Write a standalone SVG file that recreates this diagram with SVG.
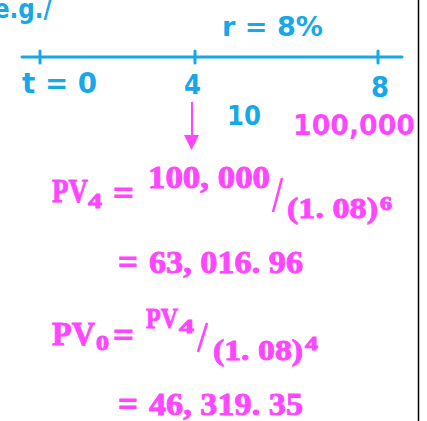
<svg xmlns="http://www.w3.org/2000/svg" width="427" height="421" viewBox="0 0 427 421">
<style>
.b{fill:#16a8e8;font-family:"DejaVu Sans",sans-serif;font-weight:bold}
.p{fill:#ff45ff;font-family:"DejaVu Sans",sans-serif;font-weight:bold}
.m{fill:#ff45ff;stroke:#ff45ff;stroke-width:0.9;font-family:"Liberation Serif",serif;font-weight:bold}
.tl{stroke:#16a8e8;stroke-width:3;stroke-linecap:round;fill:none}
</style>
<rect width="427" height="421" fill="#fff"/>
<line x1="418.5" y1="0" x2="418.5" y2="421" stroke="#000" stroke-width="1.5"/>
<g id="header">
<text class="b" x="-6" y="18" font-size="26" textLength="58" lengthAdjust="spacingAndGlyphs">e.g./</text>
<text class="b" x="222" y="36" font-size="27" textLength="101" lengthAdjust="spacingAndGlyphs">r = 8%</text>
</g>
<g id="connectors">
<line class="tl" x1="22" y1="57" x2="402" y2="57"/>
<line class="tl" x1="40" y1="51" x2="40" y2="63"/>
<line class="tl" x1="195" y1="51" x2="195" y2="63"/>
<line class="tl" x1="378" y1="51" x2="378" y2="63"/>
<line x1="192" y1="102" x2="192" y2="138" stroke="#ff45ff" stroke-width="2"/>
<polygon points="184,135 199,135 191.5,150" fill="#ff45ff"/>
</g>
<g id="labels">
<text class="b" x="22" y="93" font-size="29" textLength="75" lengthAdjust="spacingAndGlyphs">t = 0</text>
<text class="b" x="184" y="94" font-size="27" textLength="17" lengthAdjust="spacingAndGlyphs">4</text>
<text class="b" x="371" y="97" font-size="28" textLength="18" lengthAdjust="spacingAndGlyphs">8</text>
<text class="b" x="227" y="125" font-size="27" textLength="34" lengthAdjust="spacingAndGlyphs">10</text>
<text class="p" x="293" y="135" font-size="29" textLength="122" lengthAdjust="spacingAndGlyphs">100,000</text>
</g>
<g id="eq1">
<text class="m" x="52" y="202" font-size="33" textLength="36" lengthAdjust="spacingAndGlyphs">PV</text>
<text class="m" x="88" y="208" font-size="21" textLength="14" lengthAdjust="spacingAndGlyphs">4</text>
<text class="m" x="113" y="205" font-size="36" textLength="21" lengthAdjust="spacingAndGlyphs">=</text>
<text class="m" x="148" y="188" font-size="31" textLength="122" lengthAdjust="spacingAndGlyphs">100, 000</text>
<line x1="273" y1="212" x2="282" y2="178" stroke="#ff45ff" stroke-width="2.6"/>
<text class="m" x="287" y="218" font-size="30" textLength="91" lengthAdjust="spacingAndGlyphs">(1. 08)</text>
<text class="m" x="380" y="210" font-size="18" textLength="12" lengthAdjust="spacingAndGlyphs">6</text>
<text class="m" x="118" y="274" font-size="36" textLength="20" lengthAdjust="spacingAndGlyphs">=</text>
<text class="m" x="149" y="273" font-size="31" textLength="154" lengthAdjust="spacingAndGlyphs">63, 016. 96</text>
</g>
<g id="eq2">
<text class="m" x="52" y="345" font-size="33" textLength="43" lengthAdjust="spacingAndGlyphs">PV</text>
<text class="m" x="96" y="350" font-size="21" textLength="13" lengthAdjust="spacingAndGlyphs">0</text>
<text class="m" x="113" y="347" font-size="36" textLength="21" lengthAdjust="spacingAndGlyphs">=</text>
<text class="m" x="146" y="328" font-size="30" textLength="32" lengthAdjust="spacingAndGlyphs">PV</text>
<text class="m" x="179" y="333" font-size="18" textLength="15" lengthAdjust="spacingAndGlyphs">4</text>
<line x1="198" y1="352" x2="207" y2="323" stroke="#ff45ff" stroke-width="2.6"/>
<text class="m" x="213" y="360" font-size="30" textLength="90" lengthAdjust="spacingAndGlyphs">(1. 08)</text>
<text class="m" x="305" y="350" font-size="18" textLength="13" lengthAdjust="spacingAndGlyphs">4</text>
<text class="m" x="118" y="416" font-size="36" textLength="20" lengthAdjust="spacingAndGlyphs">=</text>
<text class="m" x="149" y="415" font-size="31" textLength="154" lengthAdjust="spacingAndGlyphs">46, 319. 35</text>
</g>
</svg>
